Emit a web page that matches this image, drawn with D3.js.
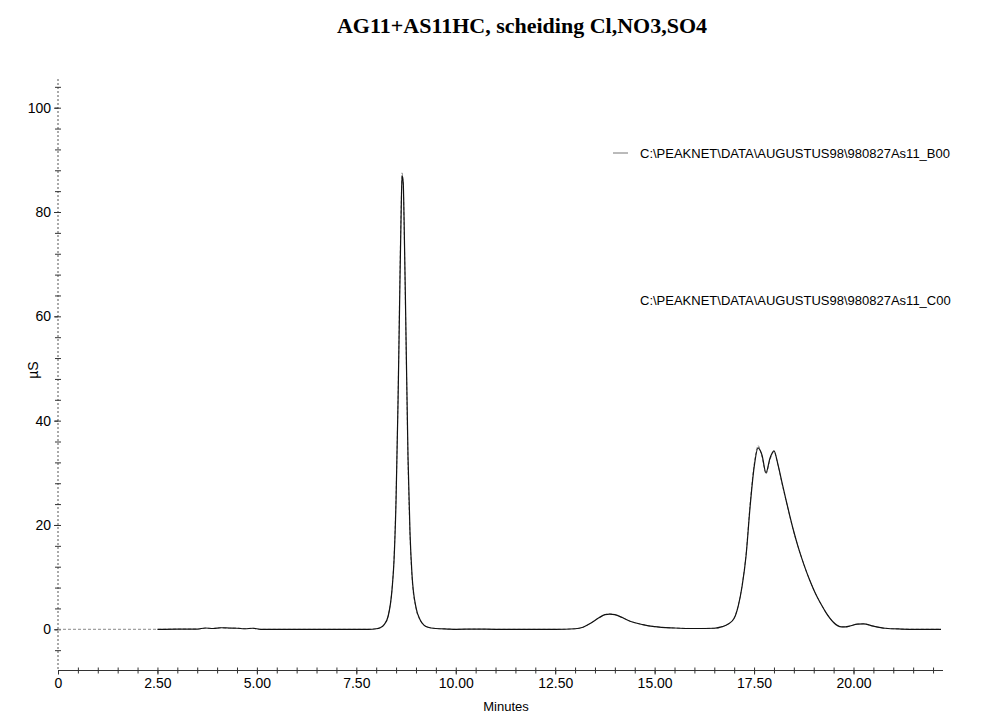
<!DOCTYPE html>
<html>
<head>
<meta charset="utf-8">
<script src="https://cdn.jsdelivr.net/npm/d3@7/dist/d3.min.js"></script>
<style>
  html, body { margin: 0; padding: 0; background: #fff; }
  svg { display: block; }
</style>
</head>
<body>
<svg id="chart" width="990" height="714"></svg>
<script>
// ---------------- data ----------------
const chartTitle = "AG11+AS11HC, scheiding Cl,NO3,SO4";
const seriesNames = [
  "C:\\PEAKNET\\DATA\\AUGUSTUS98\\980827As11_B00",
  "C:\\PEAKNET\\DATA\\AUGUSTUS98\\980827As11_C00"
];
const xLabel = "Minutes";
const yLabel = "µS";
const xTickLabels = [0, 2.5, 5, 7.5, 10, 12.5, 15, 17.5, 20];
const yTickLabels = [0, 20, 40, 60, 80, 100];

const times = [0, 0.5, 1, 1.5, 2, 2.5, 3, 3.5, 3.7, 3.9, 4.1, 4.3, 4.5, 4.7, 4.9, 5.1, 5.5, 6, 6.5, 7, 7.5, 7.8,
  8.0, 8.1, 8.2, 8.3, 8.4, 8.45, 8.5, 8.55, 8.6, 8.63, 8.65, 8.68, 8.7, 8.75, 8.8, 8.85, 8.9, 9.0, 9.1, 9.2, 9.3,
  9.5, 9.8, 10, 10.5, 11, 11.5, 12, 12.5, 13, 13.2, 13.4, 13.6, 13.75, 13.87, 14.0, 14.2, 14.4, 14.7, 15.0, 15.5,
  16.0, 16.5, 16.7, 16.85,
  17.0, 17.1, 17.2, 17.3, 17.4, 17.5, 17.6, 17.7, 17.8, 17.9,
  18.0, 18.1, 18.2, 18.3, 18.4, 18.5, 18.6, 18.7, 18.8, 18.9,
  19.0, 19.1, 19.2, 19.3, 19.4, 19.5, 19.6, 19.7, 19.8, 19.9,
  20.1, 20.25, 20.5, 20.8, 21.2, 21.6, 22.0, 22.2];

const valuesB00 = [0, 0, 0, 0, 0, 0, 0.05, 0.05, 0.2, 0.15, 0.3, 0.2, 0.25, 0.1, 0.2, 0, 0, 0, 0, 0, 0, 0,
  0.1, 0.3, 0.9, 2.6, 8, 14, 26, 45, 70, 82, 87.5, 85, 78, 55, 32, 18, 10, 4, 1.8, 0.8, 0.4,
  0.15, 0.05, 0, 0.05, 0, 0, 0, 0, 0.1, 0.4, 1.2, 2.2, 2.8, 2.95, 2.8, 2.2, 1.5, 0.9, 0.5, 0.25,
  0.15, 0.2, 0.5, 1.0,
  2.2, 4.5, 8.5, 14.5, 24, 31.5, 35.2, 33, 29.8, 32.5,
  34, 31.5, 28, 24.8, 21.6, 18.6, 16, 13.6, 11.4, 9.4,
  7.6, 6, 4.6, 3.3, 2.2, 1.3, 0.7, 0.45, 0.45, 0.6,
  1.0, 1.05, 0.6, 0.2, 0.05, 0, 0, 0];

const valuesC00 = [null, null, null, null, null, 0, 0.05, 0.05, 0.25, 0.15, 0.3, 0.25, 0.2, 0.1, 0.2, 0, 0, 0, 0, 0, 0, 0,
  0.1, 0.3, 0.9, 2.5, 7.8, 13.5, 25, 44, 68, 81, 87, 85.5, 79, 56, 33, 18.5, 10.5, 4.2, 1.9, 0.8, 0.4,
  0.15, 0.05, 0, 0.05, 0, 0, 0, 0, 0.1, 0.4, 1.2, 2.2, 2.8, 2.9, 2.8, 2.2, 1.5, 0.9, 0.5, 0.25,
  0.15, 0.2, 0.5, 1.0,
  2.1, 4.4, 8.3, 14.2, 23.5, 31, 34.8, 33.4, 30, 32.8,
  34.2, 31.6, 28.2, 24.9, 21.7, 18.7, 16, 13.6, 11.4, 9.4,
  7.6, 6, 4.6, 3.3, 2.2, 1.3, 0.7, 0.45, 0.45, 0.6,
  1.0, 1.05, 0.6, 0.2, 0.05, 0, 0, 0];

// ---------------- layout ----------------
const svg = d3.select("#chart");
const x = d3.scaleLinear().domain([0, 22.25]).range([58, 943]);
const y = d3.scaleLinear().domain([-7.9, 105.5]).range([670.5, 79]);

const axisColor = "#333";
const font = "'Liberation Sans', Arial, Helvetica, sans-serif";

// title
svg.append("text")
  .attr("x", 522).attr("y", 33)
  .attr("text-anchor", "middle")
  .attr("font-family", "'Liberation Serif', 'Times New Roman', serif")
  .attr("font-weight", "bold")
  .attr("font-size", 22)
  .attr("fill", "#000")
  .text(chartTitle);

// y axis line
svg.append("line")
  .attr("x1", x(0)).attr("x2", x(0))
  .attr("y1", y(105.5)).attr("y2", y(-7.9))
  .attr("stroke", "#555").attr("stroke-width", 1)
  .attr("stroke-dasharray", "2,2");

// x axis line
svg.append("line")
  .attr("x1", x(0)).attr("x2", x(22.25))
  .attr("y1", y(-7.9)).attr("y2", y(-7.9))
  .attr("stroke", axisColor).attr("stroke-width", 1);

// minor ticks (crosses)
const yMinor = d3.range(-4, 105, 4);
const xMinor = d3.range(0.5, 22.01, 0.5);

const gyMinor = svg.append("g")
  .attr("transform", `translate(${x(0) + 3},0)`)
  .call(d3.axisLeft(y).tickValues(yMinor).tickSize(6).tickFormat(""));
gyMinor.select(".domain").remove();
gyMinor.selectAll("line").attr("stroke", axisColor);

const gxMinor = svg.append("g")
  .attr("transform", `translate(0,${y(-7.9) - 3})`)
  .call(d3.axisBottom(x).tickValues(xMinor).tickSize(6).tickFormat(""));
gxMinor.select(".domain").remove();
gxMinor.selectAll("line").attr("stroke", axisColor);

// labelled axes
const gy = svg.append("g")
  .attr("transform", `translate(${x(0)},0)`)
  .call(d3.axisLeft(y).tickValues(yTickLabels).tickSize(4).tickPadding(3).tickFormat(d3.format("d")));
gy.select(".domain").remove();
gy.selectAll("line").attr("stroke", axisColor);
gy.selectAll("text").attr("font-family", font).attr("font-size", 14).attr("fill", "#000");

const gx = svg.append("g")
  .attr("transform", `translate(0,${y(-7.9)})`)
  .call(d3.axisBottom(x).tickValues(xTickLabels).tickSize(4).tickPadding(4)
    .tickFormat(d => d === 0 ? "0" : d3.format(".2f")(d)));
gx.select(".domain").remove();
gx.selectAll("line").attr("stroke", axisColor);
gx.selectAll("text").attr("font-family", font).attr("font-size", 14).attr("fill", "#000");

// axis titles
svg.append("text")
  .attr("x", 506).attr("y", 711)
  .attr("text-anchor", "middle")
  .attr("font-family", font).attr("font-size", 13)
  .text(xLabel);

svg.append("text")
  .attr("transform", "translate(38,370) rotate(-90)")
  .attr("text-anchor", "middle")
  .attr("font-family", font).attr("font-size", 14)
  .text(yLabel);

// ---------------- series ----------------
const line = d3.line()
  .defined(d => d[1] !== null)
  .x(d => x(d[0]))
  .y(d => y(d[1]))
  .curve(d3.curveMonotoneX);

const dataB = times.map((t, i) => [t, valuesB00[i]]);
const dataC = times.map((t, i) => [t, valuesC00[i]]);

svg.append("path")
  .datum(dataB)
  .attr("fill", "none")
  .attr("stroke", "#888")
  .attr("stroke-width", 1)
  .attr("stroke-dasharray", "3,2")
  .attr("d", line);

svg.append("path")
  .datum(dataC)
  .attr("fill", "none")
  .attr("stroke", "#111")
  .attr("stroke-width", 1.2)
  .attr("d", line);

// ---------------- legend ----------------
const legend = svg.append("g");
const legendY = [153, 300];
legend.append("line")
  .attr("x1", 613).attr("x2", 628)
  .attr("y1", legendY[0]).attr("y2", legendY[0])
  .attr("stroke", "#777").attr("stroke-width", 1);
seriesNames.forEach((name, i) => {
  legend.append("text")
    .attr("x", 640).attr("y", legendY[i])
    .attr("dy", "0.35em")
    .attr("font-family", font).attr("font-size", 13)
    .attr("fill", "#000")
    .text(name);
});
</script>
</body>
</html>
